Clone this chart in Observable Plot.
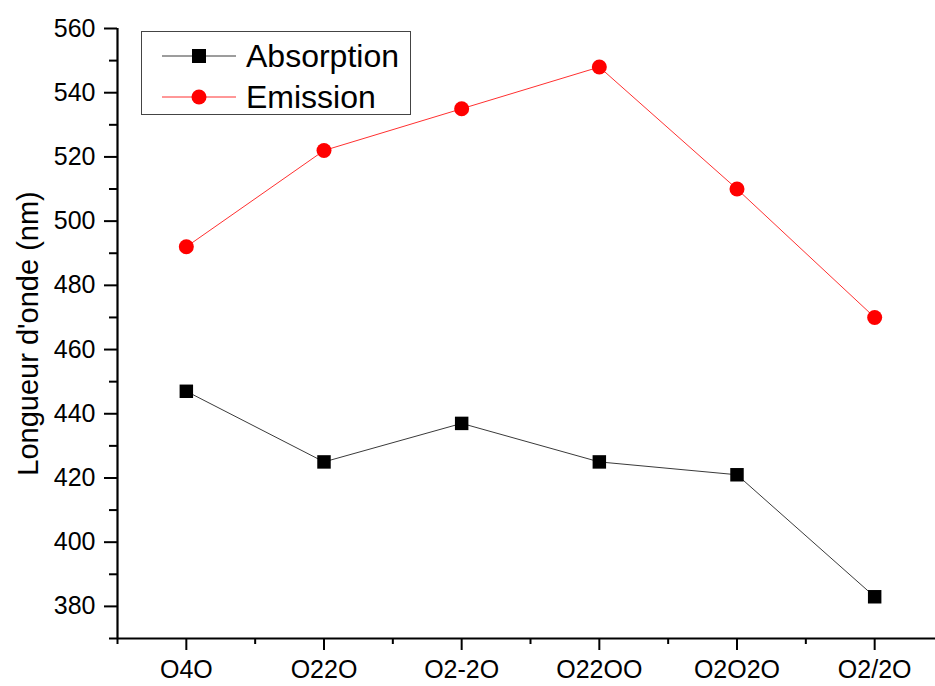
<!DOCTYPE html>
<html>
<head>
<meta charset="utf-8">
<script src="https://cdn.jsdelivr.net/npm/d3@7"></script>
<script src="https://cdn.jsdelivr.net/npm/@observablehq/plot@0.6"></script>
<style>
  html, body { margin: 0; padding: 0; background: #fff; overflow: hidden; }
  #wrap { position: relative; width: 935px; height: 686px; font-family: "Liberation Sans", Arial, sans-serif; }
  #legend { position: absolute; left: 141px; top: 31px; width: 270px; height: 84px; border: 1.5px solid #444; background: #fff; box-sizing: border-box; }
  #legend .row { position: absolute; left: 0; height: 40px; display: flex; align-items: center; }
  #legend .row span { font-size: 32px; color: #000; margin-left: 8px; line-height: 40px; }
</style>
</head>
<body>
<div id="wrap"></div>
<script>
const categories = ["O4O", "O22O", "O2-2O", "O22OO", "O2O2O", "O2/2O"];
const absorption = [447, 425, 437, 425, 421, 383];
const emission = [492, 522, 535, 548, 510, 470];
const seriesNames = ["Absorption", "Emission"];
const seriesColors = ["#000000", "#ff0000"];
const lineColors = ["#3a3a3a", "#ff3030"];
const yMajorTicks = [380, 400, 420, 440, 460, 480, 500, 520, 540, 560];
const yMinorTicks = [370, 390, 410, 430, 450, 470, 490, 510, 530, 550];
const yLabel = "Longueur d'onde (nm)";

const absData = categories.map((c, i) => ({i, c, v: absorption[i]}));
const emiData = categories.map((c, i) => ({i, c, v: emission[i]}));
const xMajor = categories.map((c, i) => i);
const xMinor = [-0.5, 0.5, 1.5, 2.5, 3.5, 4.5];

const font = "Liberation Sans, Arial, sans-serif";
const blank = () => "";

const chart = Plot.plot({
  width: 935,
  height: 686,
  marginLeft: 117,
  marginRight: 0,
  marginTop: 28,
  marginBottom: 48,
  style: {fontFamily: font, color: "#000", background: "#fff", overflow: "hidden"},
  x: {type: "linear", domain: [-0.5, 5.5], range: [117, 943]},
  y: {domain: [370, 560]},
  marks: [
    Plot.axisY({ticks: yMajorTicks, tickSize: 13, tickPadding: 9, fontSize: 25, strokeWidth: 2, label: null, fill: "#000"}),
    Plot.axisY({ticks: yMinorTicks, tickSize: 8, tickFormat: blank, strokeWidth: 2, label: null}),
    Plot.axisX({ticks: xMajor, tickSize: 12, tickFormat: blank, strokeWidth: 2, label: null}),
    Plot.axisX({ticks: xMinor, tickSize: 6, tickFormat: blank, strokeWidth: 2, label: null}),
    Plot.text(categories, {x: (d, i) => i, frameAnchor: "bottom", lineAnchor: "middle", dy: 31, fontSize: 25, fill: "#000"}),
    Plot.ruleY([370], {stroke: "#000", strokeWidth: 2.2}),
    Plot.ruleX([-0.5], {y1: 370, y2: 560, stroke: "#000", strokeWidth: 2.2}),
    Plot.text([yLabel], {frameAnchor: "left", textAnchor: "middle", lineAnchor: "middle", dx: -89, rotate: -90, fontSize: 29, fill: "#000"}),
    Plot.line(absData, {x: "i", y: "v", stroke: lineColors[0], strokeWidth: 1}),
    Plot.line(emiData, {x: "i", y: "v", stroke: lineColors[1], strokeWidth: 1}),
    Plot.dot(absData, {x: "i", y: "v", symbol: "square", r: 7.6, fill: seriesColors[0], stroke: null}),
    Plot.dot(emiData, {x: "i", y: "v", symbol: "circle", r: 7.5, fill: seriesColors[1], stroke: null})
  ]
});

const wrap = document.getElementById("wrap");
wrap.appendChild(chart);

// legend
const legend = document.createElement("div");
legend.id = "legend";
seriesNames.forEach((name, k) => {
  const row = document.createElement("div");
  row.className = "row";
  row.style.top = (k === 0 ? 4 : 45) + "px";
  const marker = k === 0
    ? `<rect x="50" y="13" width="14" height="14" fill="${seriesColors[0]}"/>`
    : `<circle cx="57" cy="20" r="7.5" fill="${seriesColors[1]}"/>`;
  row.innerHTML = `<svg width="96" height="40" style="display:block"><line x1="20" x2="94" y1="20" y2="20" stroke="${lineColors[k]}" stroke-width="1"/>${marker}</svg><span>${name}</span>`;
  legend.appendChild(row);
});
wrap.appendChild(legend);
</script>
</body>
</html>
